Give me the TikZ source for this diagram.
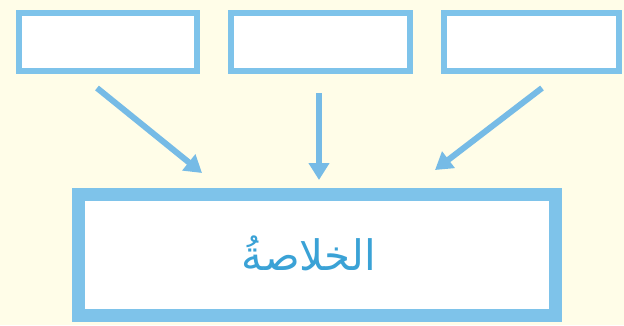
\documentclass[tikz,border=0pt]{standalone}
\usepackage{fontspec}
\TeXXeTstate=1
\newfontfamily\arabicfont[Script=Arabic]{DejaVu Sans}
\usetikzlibrary{arrows.meta,calc}
\definecolor{bgcream}{HTML}{FFFDE8}
\definecolor{boxblue}{HTML}{7EC3EA}
\definecolor{arrblue}{HTML}{76BBE6}
\definecolor{txtblue}{HTML}{3AA2D6}
\tikzset{
  topbox/.style={draw=boxblue, fill=white, line width=6pt, minimum height=58pt, inner sep=0pt},
  mainbox/.style={draw=boxblue, fill=white, line width=13pt, minimum width=477pt, minimum height=121pt, inner sep=0pt},
  arr/.style={draw=arrblue, line width=6pt, -{Triangle[width=20pt,length=17pt]}}
}
\begin{document}
\begin{tikzpicture}[x=1pt,y=-1pt]
\fill[bgcream] (0,0) rectangle (624,325);
\useasboundingbox (0,0) rectangle (624,325);
\node[topbox, minimum width=178pt] (b1) at (108,42) {};
\node[topbox, minimum width=179pt] (b2) at (320.5,42) {};
\node[topbox, minimum width=175pt] (b3) at (531.5,42) {};
\node[mainbox] (main) at (317,255) {};
\node[text=txtblue, font=\fontsize{42}{50}\selectfont, inner sep=0pt] (lbl) at (309,253) {\arabicfont\beginR الخلاصةُ\endR};
\draw[arr] ($(b1.south)+(-11,14)$) -- ($(main.north)+(-115,-15)$);
\draw[arr] ($(b2.south)+(-1.5,19)$) -- ($(main.north)+(2,-8)$);
\draw[arr] ($(b3.south)+(10.5,14)$) -- ($(main.north)+(118,-18)$);
\end{tikzpicture}
\end{document}
